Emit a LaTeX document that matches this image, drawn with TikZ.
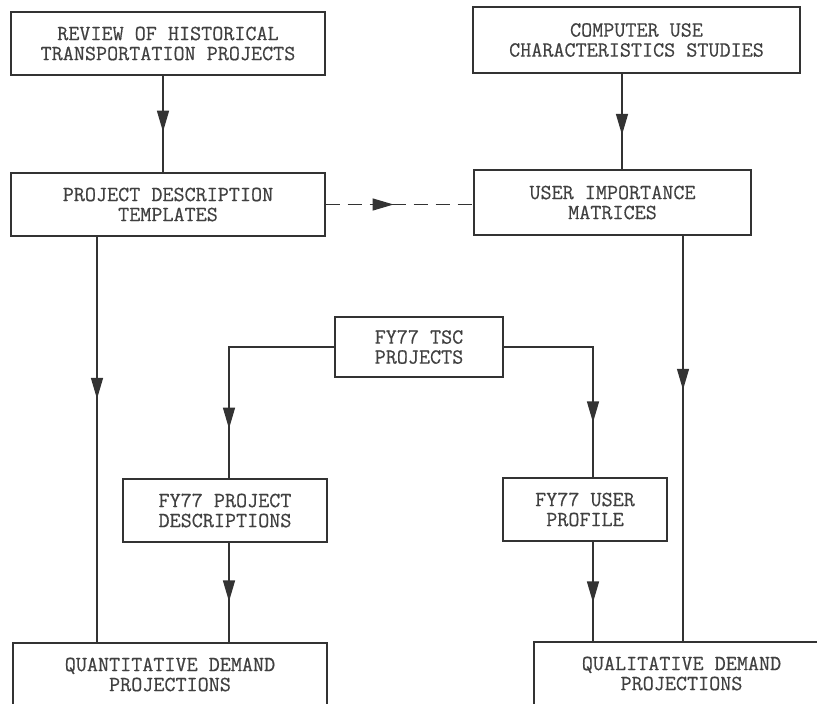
\documentclass[tikz,border=0pt]{standalone}
\usepackage{fontspec}
\setmonofont{Latin Modern Mono}[FakeBold=0.5]
\usetikzlibrary{arrows.meta,decorations.markings}

\begin{document}
\begin{tikzpicture}[x=1pt,y=-1pt,
    box/.style={draw=black!80, line width=1.2pt, align=center, inner sep=0pt,
        font=\ttfamily\fontsize{21.5}{20}\selectfont, text=black!75},
    line/.style={draw=black!80, line width=1.3pt},
    midarrow/.style={postaction={decorate}, decoration={markings,
        mark=at position #1 with {\arrow[solid]{Triangle[length=21pt,width=12pt]}}}}]

    % 固定画面大小
    \useasboundingbox (0,0) rectangle (817,704);

    % 竖线所在的位置
    \coordinate (xa) at (97,0);
    \coordinate (xb) at (163,0);
    \coordinate (xc) at (229,0);
    \coordinate (xd) at (593,0);
    \coordinate (xe) at (622,0);
    \coordinate (xf) at (683,0);

    % 绘制上方的方框
    \node[box, minimum width=314pt, minimum height=63pt] (review) at (168,43.5) {REVIEW OF HISTORICAL\\TRANSPORTATION PROJECTS};
    \node[box, minimum width=327pt, minimum height=66pt] (computer) at (636.5,40) {COMPUTER USE\\CHARACTERISTICS STUDIES};
    \node[box, minimum width=314pt, minimum height=63pt] (templates) at (168,204.5) {PROJECT DESCRIPTION\\TEMPLATES};
    \node[box, minimum width=277pt, minimum height=65pt] (importance) at (612.5,202.5) {USER IMPORTANCE\\MATRICES};

    % 绘制中间的方框
    \node[box, minimum width=168pt, minimum height=60pt] (tsc) at (419,347) {FY77 TSC\\PROJECTS};
    \node[box, minimum width=204pt, minimum height=63pt] (pdesc) at (225,510.5) {FY77 PROJECT\\DESCRIPTIONS};
    \node[box, minimum width=164pt, minimum height=63pt] (profile) at (585,509.5) {FY77 USER\\PROFILE};

    % 绘制下方的方框
    \node[box, minimum width=314pt, minimum height=63pt] (quant) at (170,674.5) {QUANTITATIVE DEMAND\\PROJECTIONS};
    \node[box, minimum width=295pt, minimum height=63pt] (qual) at (681.5,673.5) {QUALITATIVE DEMAND\\PROJECTIONS};

    % 绘制连接线
    \draw[line, midarrow=0.58] (xb |- review.south) -- (xb |- templates.north);
    \draw[line, midarrow=0.64] (xe |- computer.south) -- (xe |- importance.north);
    \draw[line, dash pattern=on 14pt off 8pt, midarrow=0.46] (templates.east) -- (templates.east -| importance.west);
    \draw[line, midarrow=0.40] (xa |- templates.south) -- (xa |- quant.north);
    \draw[line, midarrow=0.38] (xf |- importance.south) -- (xf |- qual.north);

    % 绘制分支
    \draw[line, midarrow=0.79] (tsc.west) -| (xc |- pdesc.north);
    \draw[line, midarrow=0.75] (tsc.east) -| (xd |- profile.north);
    \draw[line, midarrow=0.59] (xc |- pdesc.south) -- (xc |- quant.north);
    \draw[line, midarrow=0.61] (xd |- profile.south) -- (xd |- qual.north);

\end{tikzpicture}
\end{document}
